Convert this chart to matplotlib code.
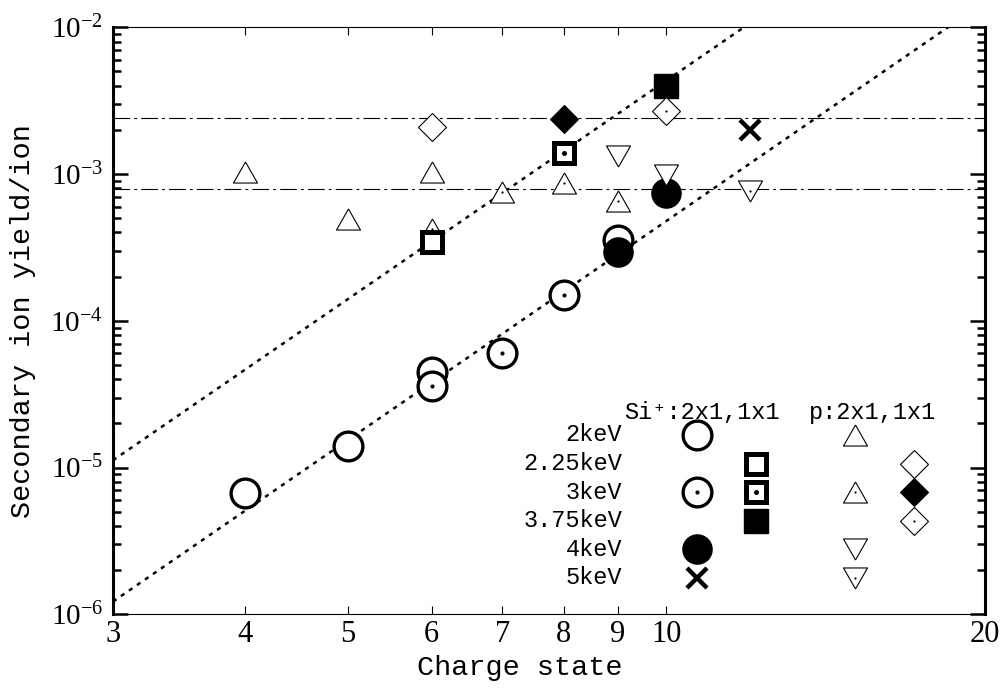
import numpy as np
import matplotlib
matplotlib.use('Agg')
import matplotlib.pyplot as plt
from matplotlib.ticker import LogLocator, NullLocator, NullFormatter

# ---- data ----
# Si+ 2x1 (circles)
si_2kev_x = [4, 5, 6, 9]
si_2kev_y = [6.7e-6, 1.41e-5, 4.5e-5, 3.57e-4]
si_3kev_x = [6, 7, 8]
si_3kev_y = [3.6e-5, 6.0e-5, 1.5e-4]
si_4kev_x = [9, 10]
si_4kev_y = [2.95e-4, 7.46e-4]
si_5kev_x = [12]
si_5kev_y = [2.0e-3]
# Si+ 1x1 (squares)
si11_225kev_x = [6]
si11_225kev_y = [3.42e-4]
si11_3kev_x = [8]
si11_3kev_y = [1.40e-3]
si11_375kev_x = [10]
si11_375kev_y = [4.0e-3]
# p 2x1 (triangles)
p_2kev_x = [4, 5, 6]
p_2kev_y = [1.03e-3, 4.93e-4, 1.03e-3]
p_3kev_x = [6, 7, 8, 9]
p_3kev_y = [4.24e-4, 7.55e-4, 8.7e-4, 6.5e-4]
p_4kev_x = [9, 10]
p_4kev_y = [1.33e-3, 9.8e-4]
p_5kev_x = [12]
p_5kev_y = [7.66e-4]
# p 1x1 (diamonds)
p11_225kev_x = [6]
p11_225kev_y = [2.1e-3]
p11_3kev_x = [8]
p11_3kev_y = [2.39e-3]
p11_375kev_x = [10]
p11_375kev_y = [2.69e-3]

# reference levels and the two dotted guide lines (end points)
ref_levels = [2.4e-3, 7.9e-4]
guide_x = [3, 20]
guide_upper = [1.12e-5, 0.134]
guide_lower = [1.22e-6, 0.0149]

xticks = [3, 4, 5, 6, 7, 8, 9, 10, 20]
xticklabels = ['3', '4', '5', '6', '7', '8', '9', '10', '20']
yticks = [1e-6, 1e-5, 1e-4, 1e-3, 1e-2]
yticklabels = [r'$\mathregular{10^{-6}}$', r'$\mathregular{10^{-5}}$', r'$\mathregular{10^{-4}}$',
               r'$\mathregular{10^{-3}}$', r'$\mathregular{10^{-2}}$']

legend_rows = ['2keV', '2.25keV', '3keV', '3.75keV', '4keV', '5keV']

plt.rcParams['lines.scale_dashes'] = False
plt.rcParams['mathtext.fontset'] = 'custom'
plt.rcParams['mathtext.rm'] = 'Liberation Serif'

tri_up = [(0, 1), (-1.14, -1), (1.14, -1), (0, 1)]
tri_dn = [(0, -1), (-1.14, 1), (1.14, 1), (0, -1)]

styles = {
    'circ_open': dict(marker='o', ms=20.7, mew=2.4, mfc='white', mec='k'),
    'circ_dot': dict(marker='o', ms=20.7, mew=2.4, mfc='white', mec='k'),
    'circ_fill': dict(marker='o', ms=21, mew=1, mfc='k', mec='k'),
    'cross': dict(marker='x', ms=15, mew=3.2, mec='k'),
    'sq_open': dict(marker='s', ms=14.4, mew=3.6, mfc='white', mec='k'),
    'sq_dot': dict(marker='s', ms=14.4, mew=3.6, mfc='white', mec='k'),
    'sq_fill': dict(marker='s', ms=17.5, mew=1, mfc='k', mec='k'),
    'tri_open': dict(marker=tri_up, ms=17.3, mew=0.8, mfc='white', mec='k'),
    'tri_dot': dict(marker=tri_up, ms=17.3, mew=0.8, mfc='white', mec='k'),
    'trid_open': dict(marker=tri_dn, ms=17.3, mew=0.8, mfc='white', mec='k'),
    'trid_dot': dict(marker=tri_dn, ms=17.3, mew=0.8, mfc='white', mec='k'),
    'dia_open': dict(marker='D', ms=14.3, mew=0.8, mfc='white', mec='k'),
    'dia_fill': dict(marker='D', ms=14.3, mew=0.8, mfc='k', mec='k'),
    'dia_dot': dict(marker='D', ms=14.3, mew=0.8, mfc='white', mec='k'),
}
dots = {'circ_dot': 3.0, 'sq_dot': 3.6, 'tri_dot': 1.6, 'trid_dot': 1.6, 'dia_dot': 1.6}


def mark(ax, x, y, kind, z, **kw):
    ax.plot(x, y, ls='none', zorder=z, clip_on=False, **styles[kind], **kw)
    if kind in dots:
        ax.plot(x, y, ls='none', marker='o', ms=dots[kind], mew=0, mfc='k',
                zorder=z + 0.01, clip_on=False, **kw)


fig = plt.figure(figsize=(10.04, 6.96), dpi=100)
ax = fig.add_axes([0.1125, 0.1174, 0.8685, 0.8434])
ax.set_xscale('log')
ax.set_yscale('log')
ax.set_xlim(3, 20)
ax.set_ylim(1e-6, 1e-2)

# guide lines
ax.plot(guide_x, guide_upper, color='k', lw=1.8, dashes=(3, 4), zorder=1)
ax.plot(guide_x, guide_lower, color='k', lw=1.8, dashes=(3, 4), zorder=1)
for lv in ref_levels:
    ax.axhline(lv, color='k', lw=0.8, dashes=(12, 3, 2, 3), zorder=1)

# data
mark(ax, si_2kev_x, si_2kev_y, 'circ_open', 3)
mark(ax, si_3kev_x, si_3kev_y, 'circ_dot', 3.1)
mark(ax, si_4kev_x, si_4kev_y, 'circ_fill', 3.2)
mark(ax, p_2kev_x, p_2kev_y, 'tri_open', 3.3)
mark(ax, p_3kev_x, p_3kev_y, 'tri_dot', 3.3)
mark(ax, p_4kev_x, p_4kev_y, 'trid_open', 3.4)
mark(ax, p_5kev_x, p_5kev_y, 'trid_dot', 3.4)
mark(ax, si11_225kev_x, si11_225kev_y, 'sq_open', 3.5)
mark(ax, si11_3kev_x, si11_3kev_y, 'sq_dot', 3.5)
mark(ax, si11_375kev_x, si11_375kev_y, 'sq_fill', 3.5)
mark(ax, p11_225kev_x, p11_225kev_y, 'dia_open', 3.6)
mark(ax, p11_3kev_x, p11_3kev_y, 'dia_fill', 3.6)
mark(ax, p11_375kev_x, p11_375kev_y, 'dia_dot', 3.6)
mark(ax, si_5kev_x, si_5kev_y, 'cross', 3.7)

# legend (axes fraction layout)
mono = 'Liberation Mono'
row_y0, row_dy = 0.3055, 0.0487
ry = [row_y0 - i * row_dy for i in range(len(legend_rows))]
ax.text(0.675, 0.343, 'Si\u207a:2x1,1x1', transform=ax.transAxes, ha='center', va='center',
        fontsize=17, family=[mono, 'DejaVu Sans Mono'])
ax.text(0.871, 0.343, 'p:2x1,1x1', transform=ax.transAxes, ha='center', va='center',
        fontsize=17, family=mono)
for lab, yy in zip(legend_rows, ry):
    ax.text(0.584, yy, lab, transform=ax.transAxes, ha='right', va='center',
            fontsize=17, family=mono)
leg = [(0.670, 0, 'circ_open'), (0.670, 2, 'circ_dot'), (0.670, 4, 'circ_fill'), (0.670, 5, 'cross'),
       (0.737, 1, 'sq_open'), (0.737, 2, 'sq_dot'), (0.737, 3, 'sq_fill'),
       (0.851, 0, 'tri_open'), (0.851, 2, 'tri_dot'), (0.851, 4, 'trid_open'), (0.851, 5, 'trid_dot'),
       (0.919, 1, 'dia_open'), (0.919, 2, 'dia_fill'), (0.919, 3, 'dia_dot')]
for lx, r, kind in leg:
    mark(ax, [lx], [ry[r]], kind, 4, transform=ax.transAxes)

# axes / ticks
ax.set_xticks(xticks)
ax.set_xticklabels(xticklabels, fontsize=22, family='Liberation Serif')
ax.xaxis.set_minor_locator(NullLocator())
ax.xaxis.set_minor_formatter(NullFormatter())
ax.set_yticks(yticks)
ax.set_yticklabels(yticklabels, fontsize=21, family='Liberation Serif')
ax.yaxis.set_minor_locator(LogLocator(base=10, subs=np.arange(2, 10)))
ax.yaxis.set_minor_formatter(NullFormatter())

ax.tick_params(axis='y', which='major', direction='in', length=11, width=1.8,
               left=True, right=True, pad=7)
ax.tick_params(axis='y', which='minor', direction='in', length=6, width=1.8,
               left=True, right=True)
ax.tick_params(axis='x', which='major', direction='in', length=6, width=0.8,
               top=True, bottom=True, pad=4)
for s in ['left', 'right']:
    ax.spines[s].set_linewidth(2.2)
for s in ['top', 'bottom']:
    ax.spines[s].set_linewidth(0.8)

ax.set_xlabel('Charge state', fontsize=20.5, family=mono, va='center')
ax.xaxis.set_label_coords(0.467, -0.0915)
ax.set_ylabel('Secondary ion yield/ion', fontsize=20.5, family=mono, va='center')
ax.yaxis.set_label_coords(-0.103, 0.5)

fig.savefig('out.png', dpi=100)
